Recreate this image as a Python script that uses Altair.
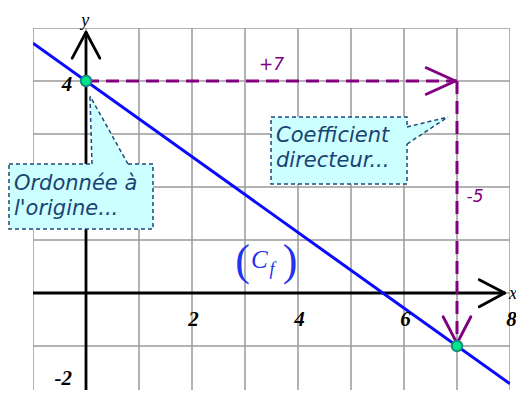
import altair as alt
import pandas as pd

# ---- data ----
grid_x = list(range(-1, 9))
grid_y = list(range(-2, 6))
line_x = [-1, 8]
line_y = [4.714, -1.714]
pts_x = [0, 7]
pts_y = [4, -1]
xtick_vals = [2, 4, 6, 8]
xtick_labels = ["2", "4", "6", "8"]

UNIT = 53  # pixels per unit
H = 362
Y_MIN = 5 - H / UNIT

xs = alt.Scale(domain=[-1, 8], nice=False, zero=False)
ys = alt.Scale(domain=[Y_MIN, 5], nice=False, zero=False)


def X(f="x"):
    return alt.X(f, type="quantitative", scale=xs, axis=None)


def Y(f="y"):
    return alt.Y(f, type="quantitative", scale=ys, axis=None)


def seg_layer(rows, **mark):
    df = pd.DataFrame(rows, columns=["x", "y", "x2", "y2"])
    return alt.Chart(df).mark_rule(clip=True, **mark).encode(
        x=X("x"), y=Y("y"), x2="x2", y2="y2")


# grid
grid_rows = [(gx, -2, gx, 5) for gx in grid_x] + [(-1, gy, 8, gy) for gy in grid_y]
grid = seg_layer(grid_rows, color="#9a9a9a", strokeWidth=1.5)

# axes with arrows
axes_rows = [(-1, 0, 7.9, 0), (0, -2, 0, 4.92)]
axes = seg_layer(axes_rows, color="black", strokeWidth=2.8)
arrow_rows = [(7.42, 0.25, 7.9, 0), (7.42, -0.26, 7.9, 0),
              (-0.26, 4.43, 0, 4.92), (0.26, 4.43, 0, 4.92)]
arrows = seg_layer(arrow_rows, color="black", strokeWidth=2.8, strokeCap="round")

# purple dashed steps
dash_rows = [(0, 4, 7, 4), (7, 4, 7, -1)]
dashes = seg_layer(dash_rows, color="#800080", strokeWidth=3, strokeDash=[13, 7])
parrow_rows = [(6.42, 4.25, 6.97, 4), (6.42, 3.75, 6.97, 4),
               (6.74, -0.45, 7, -0.95), (7.26, -0.45, 7, -0.95)]
parrows = seg_layer(parrow_rows, color="#800080", strokeWidth=3, strokeCap="round")

# blue line
line_df = pd.DataFrame({"x": line_x, "y": line_y})
line = alt.Chart(line_df).mark_line(color="#0a0aff", strokeWidth=3, clip=True).encode(x=X(), y=Y())

# callout boxes
box_df = pd.DataFrame({"x": [-1.453, 3.491], "x2": [1.264, 6.057],
                       "y": [2.434, 3.321], "y2": [1.208, 2.057]})
boxes = alt.Chart(box_df).mark_rect(fill="#ccffff", stroke="#1b4a78", strokeWidth=1.5,
                                    strokeDash=[4, 3]).encode(x=X("x"), x2="x2", y=Y("y"), y2="y2")

tail1_df = pd.DataFrame({"y": [3.717, 2.434, 2.38], "x": [0.075, 0.113, 0.113],
                         "x2": [0.075, 0.792, 0.792]})
tail1 = alt.Chart(tail1_df).mark_area(fill="#ccffff", orient="horizontal").encode(
    y=Y("y"), x=X("x"), x2="x2")
tail2_df = pd.DataFrame({"x": [6.0, 6.057, 6.83], "y": [3.132, 3.132, 3.321],
                         "y2": [2.811, 2.811, 3.321]})
tail2 = alt.Chart(tail2_df).mark_area(fill="#ccffff", orient="vertical").encode(
    x=X("x"), y=Y("y"), y2="y2")
tail_rows = [(0.113, 2.434, 0.075, 3.717), (0.792, 2.434, 0.075, 3.717),
             (6.057, 3.132, 6.83, 3.321), (6.057, 2.811, 6.83, 3.321)]
tails = seg_layer(tail_rows, color="#1b4a78", strokeWidth=1.5, strokeDash=[4, 3])

# callout texts
ct_df = pd.DataFrame({"x": [-1.36, -1.36, 3.585, 3.585],
                      "y": [1.943, 1.472, 2.849, 2.377],
                      "t": ["Ordonnée à", "l'origine...", "Coefficient", "directeur..."]})
ctext = alt.Chart(ct_df).mark_text(align="left", baseline="alphabetic", font="DejaVu Sans",
                                   fontStyle="italic", fontSize=21, color="#1b4372").encode(
    x=X("x"), y=Y("y"), text="t")

# purple labels
pl_df = pd.DataFrame({"x": [3.5, 7.34], "y": [4.21, 1.72], "t": ["+7", "-5"]})
ptext = alt.Chart(pl_df).mark_text(align="center", baseline="alphabetic", font="DejaVu Sans",
                                   fontStyle="italic", fontSize=17, color="#800080").encode(
    x=X("x"), y=Y("y"), text="t")

# tick labels
tk_df = pd.DataFrame({"x": [v + 0.03 for v in xtick_vals] + [-0.36],
                      "y": [-0.51] * 4 + [3.92],
                      "t": xtick_labels + ["4"]})
ticks = alt.Chart(tk_df).mark_text(align="center", baseline="middle", font="Liberation Serif",
                                   fontStyle="italic", fontWeight="bold", fontSize=21,
                                   color="black").encode(x=X("x"), y=Y("y"), text="t")
m2_df = pd.DataFrame({"x": [-0.43], "y": [Y_MIN + 0.02], "t": ["-2"]})
m2 = alt.Chart(m2_df).mark_text(align="center", baseline="bottom", font="Liberation Serif",
                                fontStyle="italic", fontWeight="bold", fontSize=21,
                                color="black").encode(x=X("x"), y=Y("y"), text="t")
ax_df = pd.DataFrame({"x": [-0.09, 7.98], "y": [5.04, -0.12], "t": ["y", "x"]})
axlab = alt.Chart(ax_df).mark_text(align="left", baseline="alphabetic", font="Liberation Serif",
                                   fontStyle="italic", fontSize=18, color="black").encode(
    x=X("x"), y=Y("y"), text="t")

# (C_f) label
par_df = pd.DataFrame({"x": [2.955, 3.85], "y": [0.585, 0.585], "t": ["(", ")"]})
par = alt.Chart(par_df).mark_text(align="center", baseline="middle", font="Liberation Serif",
                                  fontSize=44, color="#2233ee").encode(x=X("x"), y=Y("y"), text="t")
c_df = pd.DataFrame({"x": [3.27], "y": [0.62], "t": ["C"]})
clab = alt.Chart(c_df).mark_text(align="center", baseline="middle", font="Liberation Serif",
                                 fontStyle="italic", fontSize=25, color="#2233ee").encode(
    x=X("x"), y=Y("y"), text="t")
f_df = pd.DataFrame({"x": [3.51], "y": [0.43], "t": ["f"]})
flab = alt.Chart(f_df).mark_text(align="center", baseline="middle", font="Liberation Serif",
                                 fontStyle="italic", fontSize=18, color="#2233ee").encode(
    x=X("x"), y=Y("y"), text="t")

# points
pts_df = pd.DataFrame({"x": pts_x, "y": pts_y})
pts = alt.Chart(pts_df).mark_point(shape="circle", filled=True, fill="#00e68a", stroke="#1a8a80",
                                   strokeWidth=2, size=110, opacity=1).encode(x=X(), y=Y())

chart = alt.layer(grid, axes, arrows, dashes, parrows, line, boxes, tail1, tail2, tails,
                  ctext, ptext, ticks, m2, axlab, par, clab, flab, pts).properties(
    width=477, height=H, autosize="none",
    padding={"left": 25, "top": 20, "right": 6, "bottom": 0},
).configure_view(stroke=None)

chart.save("out.html", embed_options={"renderer": "svg", "actions": False})
